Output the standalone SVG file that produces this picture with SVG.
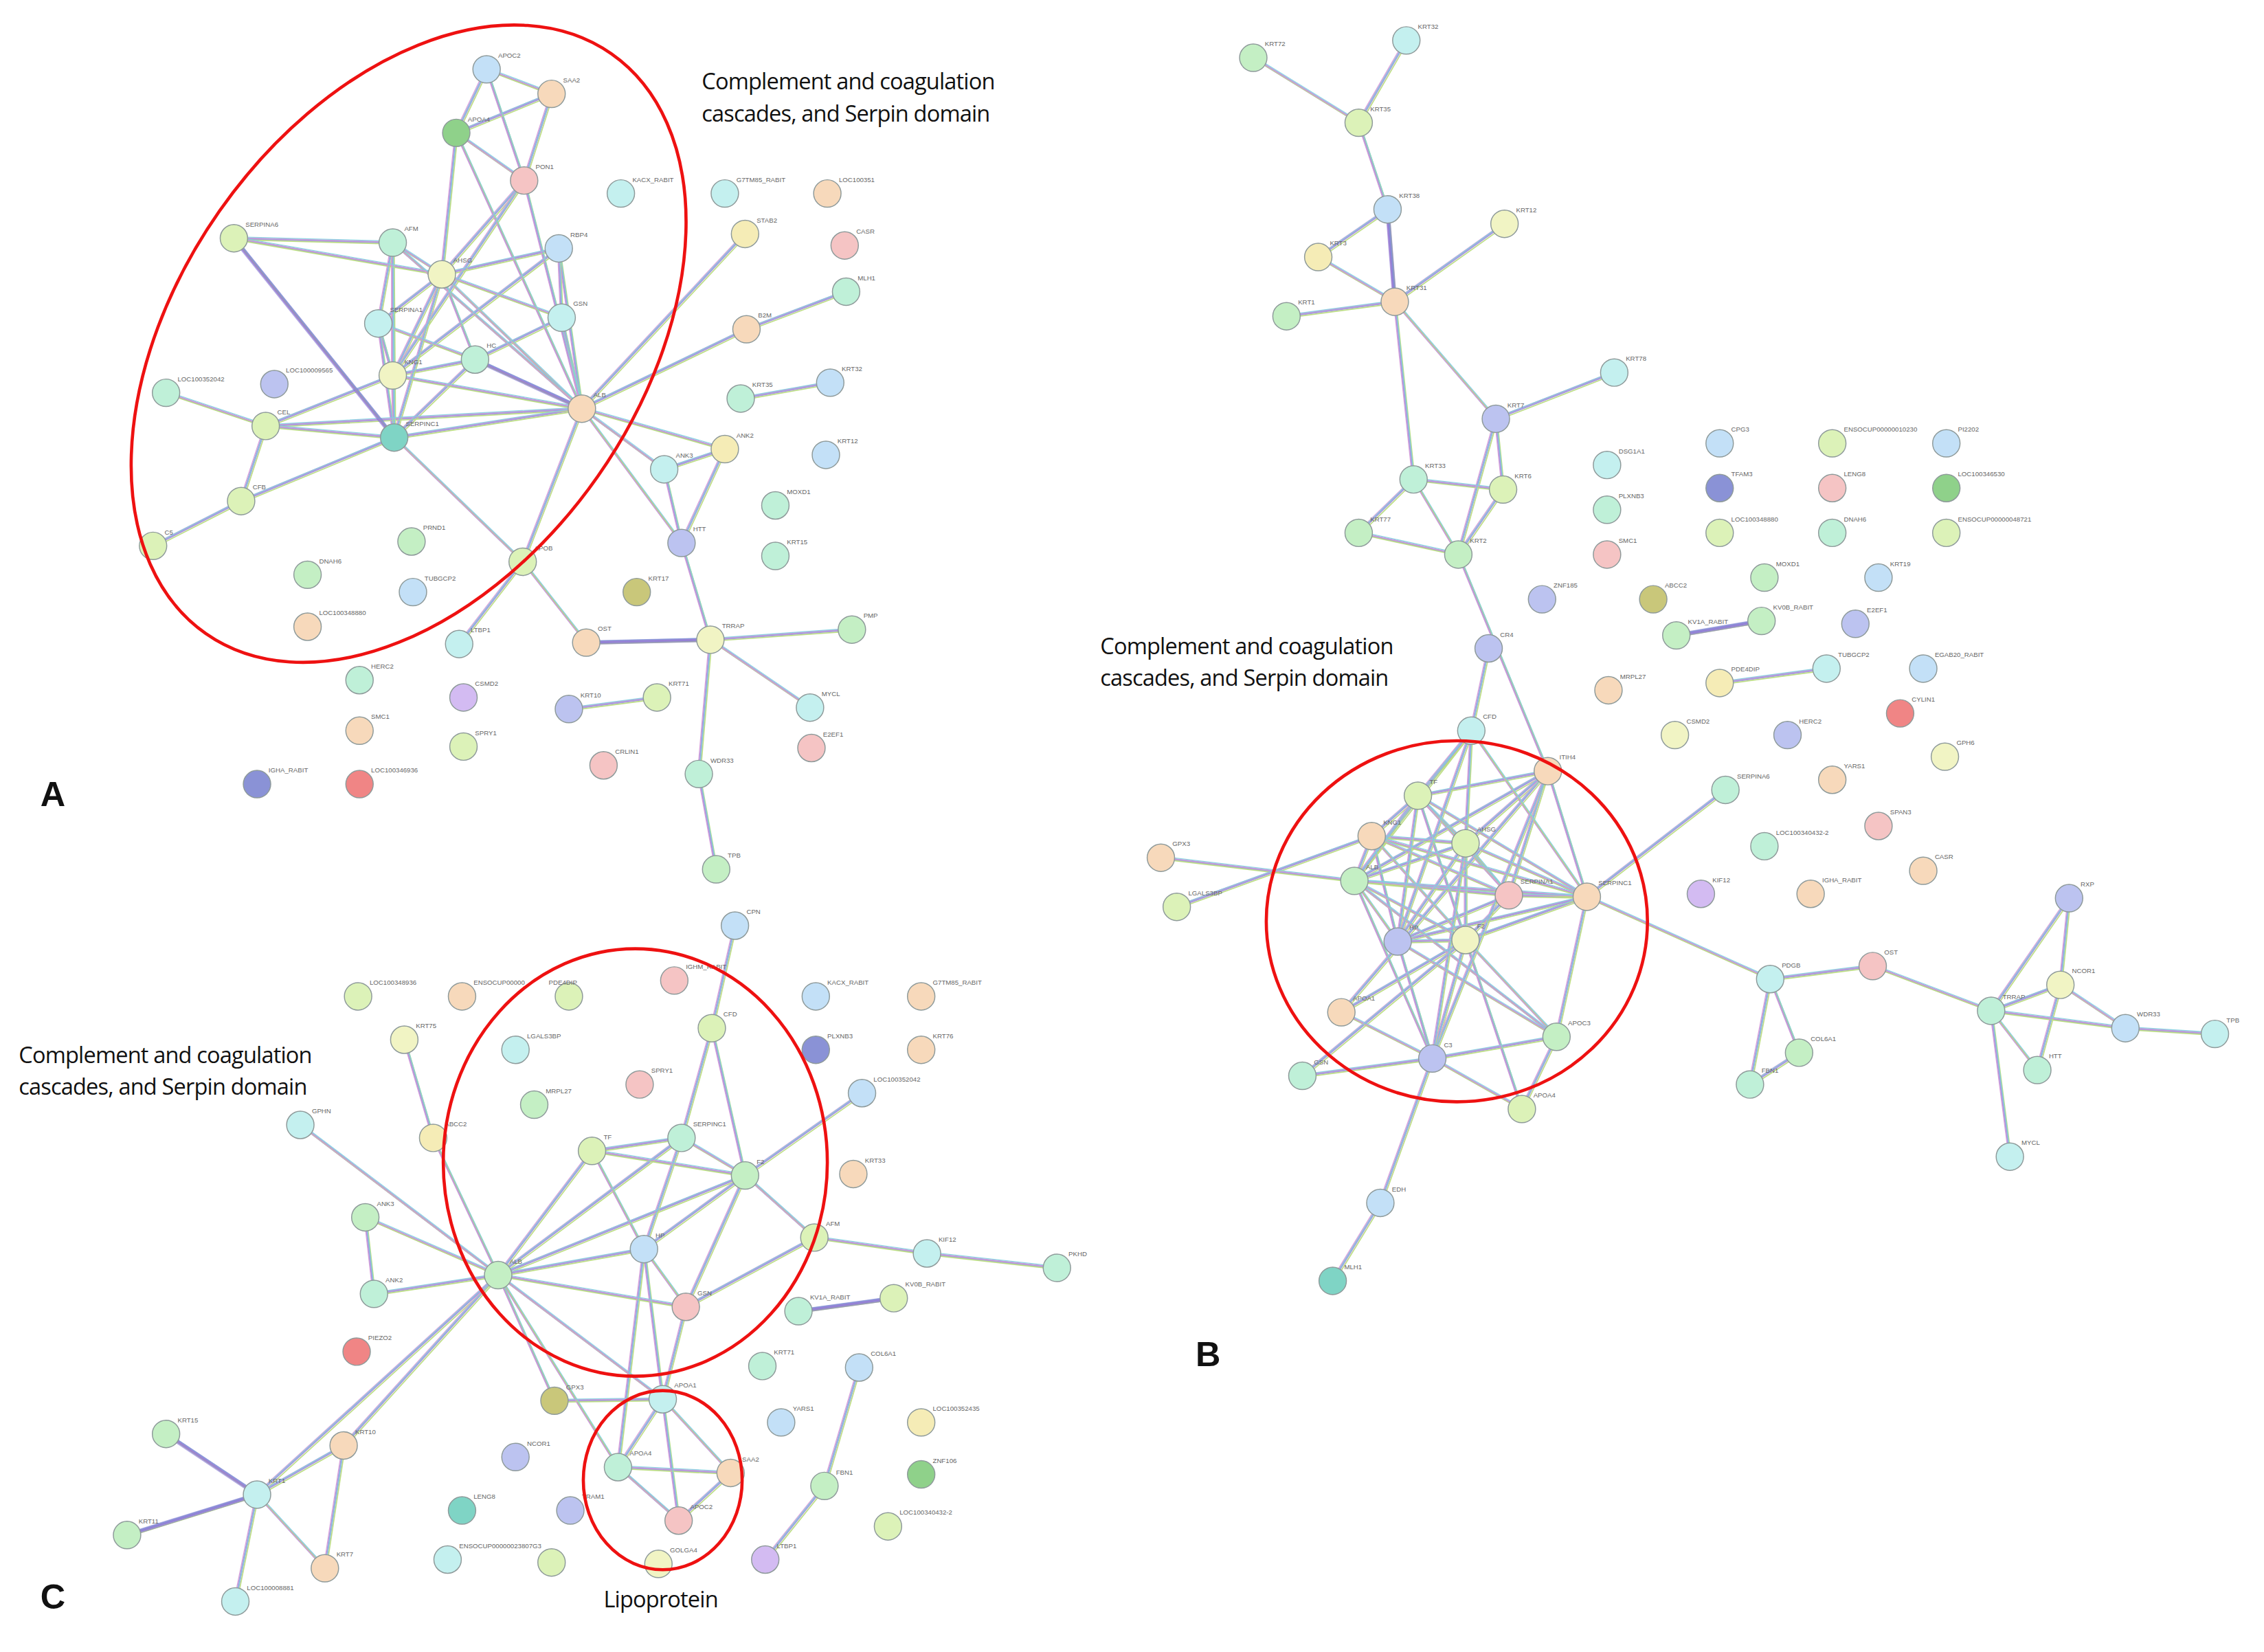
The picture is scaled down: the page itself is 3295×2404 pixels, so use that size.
<svg xmlns="http://www.w3.org/2000/svg" xmlns:xlink="http://www.w3.org/1999/xlink" width="3295" height="2404" viewBox="0 0 3295 2404">
<style>
circle{stroke:#8e9a9a;stroke-width:.7}
.bl{fill:#c3e0f7}.pe{fill:#f7d9bb}.gr{fill:#8fd18a}.pk{fill:#f5c4c4}.cy{fill:#c4f0ef}.lg{fill:#dcf2b8}.mi{fill:#bff0d8}.ly{fill:#f1f4c4}.la{fill:#bcc3f0}.te{fill:#7fd4c5}.ol{fill:#c9c77a}.pu{fill:#d3bbf2}.nv{fill:#8a92d6}.rd{fill:#f08585}.gn{fill:#c4efc4}.ye{fill:#f5ecb6}
text.l{font-family:"Liberation Sans",Arial,sans-serif;font-size:4.6px;fill:#666}
text.t{font-family:"Open Sans","Liberation Sans",sans-serif;font-size:15.5px;fill:#111;letter-spacing:-.4px}
text.p{font-family:"Liberation Sans",Arial,sans-serif;font-size:24px;font-weight:bold;fill:#111}
.e1{fill:none;stroke:#9582d6;stroke-width:1.5;opacity:.8}
.e2{fill:none;stroke:#b9dc7e;stroke-width:.8;opacity:.95}
.e3{fill:none;stroke:#d59ad8;stroke-width:.6;opacity:.9}
.e4{fill:none;stroke:#7fcfe0;stroke-width:.6;opacity:.9}
.ring{fill:none;stroke:#ee1111;stroke-width:2.2}
</style>
<defs>
<path id="eA" d="M337 48L382 65M337 48L316 92M337 48L363 125M382 65L316 92M382 65L363 125M316 92L363 125M316 92L306 190M316 92L403 283M363 125L306 190M363 125L403 283M363 125L272 260M162 165L272 168M162 165L273 303M162 165L306 190M272 168L306 190M272 168L262 224M272 168L272 260M272 168L403 283M272 168L273 303M306 190L387 172M306 190L262 224M306 190L272 260M306 190L329 249M306 190L403 283M306 190L389 220M306 190L273 303M387 172L403 283M387 172L389 220M387 172L272 260M389 220L403 283M262 224L272 260M262 224L329 249M262 224L273 303M272 260L329 249M272 260L403 283M272 260L273 303M272 260L184 295M329 249L403 283M329 249L273 303M329 249L389 220M115 272L184 295M184 295L273 303M184 295L403 283M184 295L167 347M167 347L273 303M167 347L106 378M273 303L403 283M273 303L362 389M403 283L516 162M403 283L517 228M403 283L502 311M403 283L460 325M403 283L472 376M403 283L362 389M517 228L586 202M513 276L575 265M460 325L502 311M460 325L472 376M502 311L472 376M472 376L492 443M362 389L318 446M362 389L406 445M406 445L492 443M492 443L590 436M492 443L561 490M492 443L484 536M484 536L496 602M394 491L455 483"/>
<path id="eB" d="M868 40L941 85M974 28L941 85M941 85L961 145M961 145L966 209M961 145L913 178M913 178L966 209M1042 155L966 209M891 219L966 209M966 209L1036 290M966 209L979 332M1118 258L1036 290M1036 290L1041 339M1036 290L1010 384M979 332L1041 339M979 332L941 369M979 332L1010 384M941 369L1010 384M1041 339L1010 384M1010 384L1072 534M1031 449L1019 506M1161 440L1220 430M1191 473L1265 463M1019 506L982 551M1019 506L1015 584M1019 506L938 610M1019 506L1099 621M1019 506L968 652M1072 534L982 551M1072 534L1015 584M1072 534L1045 620M1072 534L1099 621M1072 534L938 610M1072 534L992 733M982 551L950 579M982 551L1015 584M982 551L938 610M982 551L1045 620M982 551L1099 621M982 551L1015 651M982 551L968 652M950 579L1015 584M950 579L938 610M950 579L1045 620M950 579L1099 621M950 579L968 652M950 579L1015 651M950 579L815 628M1015 584L938 610M1015 584L1045 620M1015 584L1099 621M1015 584L968 652M1015 584L1015 651M1015 584L992 733M938 610L1045 620M938 610L1099 621M938 610L968 652M938 610L1015 651M938 610L804 594M938 610L992 733M1045 620L1099 621M1045 620L968 652M1045 620L1015 651M1099 621L1015 651M1099 621L968 652M1099 621L1078 718M1099 621L1195 547M1099 621L1226 678M968 652L1015 651M968 652L992 733M968 652L1078 718M1015 651L929 701M1015 651L992 733M1015 651L902 745M1015 651L1054 768M1015 651L1078 718M929 701L992 733M929 701L1072 534M992 733L1078 718M992 733L902 745M992 733L1054 768M992 733L956 833M1078 718L1054 768M1078 718L938 610M956 833L923 887M1226 678L1297 669M1226 678L1246 729M1226 678L1212 751M1246 729L1212 751M1297 669L1379 700M1379 700L1433 622M1379 700L1427 682M1379 700L1411 741M1379 700L1472 712M1379 700L1392 801M1427 682L1433 622M1427 682L1411 741M1427 682L1472 712M1472 712L1534 716"/>
<path id="eC" d="M509 641L493 712M493 712L472 788M493 712L516 814M280 720L300 788M300 788L345 883M208 779L345 883M410 797L472 788M410 797L516 814M410 797L446 865M410 797L345 883M472 788L516 814M472 788L446 865M472 788L345 883M516 814L446 865M516 814L345 883M516 814L564 857M516 814L475 905M516 814L597 757M564 857L642 868M642 868L732 878M564 857L475 905M253 843L259 896M253 843L345 883M259 896L345 883M446 865L345 883M446 865L475 905M446 865L459 969M446 865L428 1016M345 883L475 905M345 883L459 969M345 883L428 1016M345 883L178 1035M345 883L238 1001M345 883L384 970M475 905L459 969M384 970L459 969M553 908L619 899M459 969L428 1016M459 969L506 1020M459 969L470 1053M428 1016L506 1020M428 1016L470 1053M506 1020L470 1053M595 947L571 1029M571 1029L530 1080M115 993L178 1035M238 1001L178 1035M238 1001L225 1086M178 1035L88 1063M178 1035L225 1086M178 1035L163 1109"/>
</defs>
<rect width="3295" height="2404" fill="#fff"/>
<g transform="scale(2.1014)">
<g id="connectors">
<use xlink:href="#eA" class="e1"/><use xlink:href="#eA" class="e2" transform="translate(1,1)"/><use xlink:href="#eA" class="e3" transform="translate(-.9,-.5)"/><use xlink:href="#eA" class="e4" transform="translate(.4,-1)"/>
<use xlink:href="#eB" class="e1"/><use xlink:href="#eB" class="e2" transform="translate(1,1)"/><use xlink:href="#eB" class="e3" transform="translate(-.9,-.5)"/><use xlink:href="#eB" class="e4" transform="translate(.4,-1)"/>
<use xlink:href="#eC" class="e1"/><use xlink:href="#eC" class="e2" transform="translate(1,1)"/><use xlink:href="#eC" class="e3" transform="translate(-.9,-.5)"/><use xlink:href="#eC" class="e4" transform="translate(.4,-1)"/>
<path d="M162 165L273 303M403 283L329 249M406 445L492 443M961 145L966 209M1161 440L1220 430M553 908L619 899M115 993L178 1035M88 1063L178 1035" fill="none" stroke="#8070d0" stroke-width="3" opacity=".6"/>
</g>
<!-- Panel A -->
<g id="A_APOC2"><circle cx="337" cy="48" r="9.5" class="bl"/><text class="l" x="345" y="40">APOC2</text></g>
<g id="A_SAA2"><circle cx="382" cy="65" r="9.5" class="pe"/><text class="l" x="390" y="57">SAA2</text></g>
<g id="A_APOA4"><circle cx="316" cy="92" r="9.5" class="gr"/><text class="l" x="324" y="84">APOA4</text></g>
<g id="A_PON1"><circle cx="363" cy="125" r="9.5" class="pk"/><text class="l" x="371" y="117">PON1</text></g>
<g id="A_KACX"><circle cx="430" cy="134" r="9.5" class="cy"/><text class="l" x="438" y="126">KACX_RABIT</text></g>
<g id="A_G7TM85"><circle cx="502" cy="134" r="9.5" class="cy"/><text class="l" x="510" y="126">G7TM85_RABIT</text></g>
<g id="A_LOC100351"><circle cx="573" cy="134" r="9.5" class="pe"/><text class="l" x="581" y="126">LOC100351</text></g>
<g id="A_SERPINA6"><circle cx="162" cy="165" r="9.5" class="lg"/><text class="l" x="170" y="157">SERPINA6</text></g>
<g id="A_AFM"><circle cx="272" cy="168" r="9.5" class="mi"/><text class="l" x="280" y="160">AFM</text></g>
<g id="A_AHSG"><circle cx="306" cy="190" r="9.5" class="ly"/><text class="l" x="314" y="182">AHSG</text></g>
<g id="A_RBP4"><circle cx="387" cy="172" r="9.5" class="bl"/><text class="l" x="395" y="164">RBP4</text></g>
<g id="A_STAB2"><circle cx="516" cy="162" r="9.5" class="ye"/><text class="l" x="524" y="154">STAB2</text></g>
<g id="A_CASR"><circle cx="585" cy="170" r="9.5" class="pk"/><text class="l" x="593" y="162">CASR</text></g>
<g id="A_MLH1"><circle cx="586" cy="202" r="9.5" class="mi"/><text class="l" x="594" y="194">MLH1</text></g>
<g id="A_GSN"><circle cx="389" cy="220" r="9.5" class="cy"/><text class="l" x="397" y="212">GSN</text></g>
<g id="A_SERPINA1"><circle cx="262" cy="224" r="9.5" class="cy"/><text class="l" x="270" y="216">SERPINA1</text></g>
<g id="A_KNG1"><circle cx="272" cy="260" r="9.5" class="ly"/><text class="l" x="280" y="252">KNG1</text></g>
<g id="A_HC"><circle cx="329" cy="249" r="9.5" class="mi"/><text class="l" x="337" y="241">HC</text></g>
<g id="A_LOC100352042"><circle cx="115" cy="272" r="9.5" class="mi"/><text class="l" x="123" y="264">LOC100352042</text></g>
<g id="A_LOC100009"><circle cx="190" cy="266" r="9.5" class="la"/><text class="l" x="198" y="258">LOC100009565</text></g>
<g id="A_CEL"><circle cx="184" cy="295" r="9.5" class="lg"/><text class="l" x="192" y="287">CEL</text></g>
<g id="A_SERPINC1"><circle cx="273" cy="303" r="9.5" class="te"/><text class="l" x="281" y="295">SERPINC1</text></g>
<g id="A_ALB"><circle cx="403" cy="283" r="9.5" class="pe"/><text class="l" x="411" y="275">ALB</text></g>
<g id="A_B2M"><circle cx="517" cy="228" r="9.5" class="pe"/><text class="l" x="525" y="220">B2M</text></g>
<g id="A_KRT35"><circle cx="513" cy="276" r="9.5" class="mi"/><text class="l" x="521" y="268">KRT35</text></g>
<g id="A_KRT32"><circle cx="575" cy="265" r="9.5" class="bl"/><text class="l" x="583" y="257">KRT32</text></g>
<g id="A_ANK3"><circle cx="460" cy="325" r="9.5" class="cy"/><text class="l" x="468" y="317">ANK3</text></g>
<g id="A_ANK2"><circle cx="502" cy="311" r="9.5" class="ye"/><text class="l" x="510" y="303">ANK2</text></g>
<g id="A_KRT12"><circle cx="572" cy="315" r="9.5" class="bl"/><text class="l" x="580" y="307">KRT12</text></g>
<g id="A_CFB"><circle cx="167" cy="347" r="9.5" class="lg"/><text class="l" x="175" y="339">CFB</text></g>
<g id="A_C5"><circle cx="106" cy="378" r="9.5" class="lg"/><text class="l" x="114" y="370">C5</text></g>
<g id="A_PRND1"><circle cx="285" cy="375" r="9.5" class="gn"/><text class="l" x="293" y="367">PRND1</text></g>
<g id="A_MOXD1"><circle cx="537" cy="350" r="9.5" class="mi"/><text class="l" x="545" y="342">MOXD1</text></g>
<g id="A_HTT"><circle cx="472" cy="376" r="9.5" class="la"/><text class="l" x="480" y="368">HTT</text></g>
<g id="A_KRT15"><circle cx="537" cy="385" r="9.5" class="mi"/><text class="l" x="545" y="377">KRT15</text></g>
<g id="A_DNAH6"><circle cx="213" cy="398" r="9.5" class="gn"/><text class="l" x="221" y="390">DNAH6</text></g>
<g id="A_APOB"><circle cx="362" cy="389" r="9.5" class="lg"/><text class="l" x="370" y="381">APOB</text></g>
<g id="A_TUBGCP2"><circle cx="286" cy="410" r="9.5" class="bl"/><text class="l" x="294" y="402">TUBGCP2</text></g>
<g id="A_KRT17"><circle cx="441" cy="410" r="9.5" class="ol"/><text class="l" x="449" y="402">KRT17</text></g>
<g id="A_LOC100348880"><circle cx="213" cy="434" r="9.5" class="pe"/><text class="l" x="221" y="426">LOC100348880</text></g>
<g id="A_LTBP1"><circle cx="318" cy="446" r="9.5" class="cy"/><text class="l" x="326" y="438">LTBP1</text></g>
<g id="A_OST"><circle cx="406" cy="445" r="9.5" class="pe"/><text class="l" x="414" y="437">OST</text></g>
<g id="A_TRRAP"><circle cx="492" cy="443" r="9.5" class="ly"/><text class="l" x="500" y="435">TRRAP</text></g>
<g id="A_PMP"><circle cx="590" cy="436" r="9.5" class="gn"/><text class="l" x="598" y="428">PMP</text></g>
<g id="A_HERC2"><circle cx="249" cy="471" r="9.5" class="mi"/><text class="l" x="257" y="463">HERC2</text></g>
<g id="A_CSMD2"><circle cx="321" cy="483" r="9.5" class="pu"/><text class="l" x="329" y="475">CSMD2</text></g>
<g id="A_KRT10"><circle cx="394" cy="491" r="9.5" class="la"/><text class="l" x="402" y="483">KRT10</text></g>
<g id="A_KRT71"><circle cx="455" cy="483" r="9.5" class="lg"/><text class="l" x="463" y="475">KRT71</text></g>
<g id="A_MYCL"><circle cx="561" cy="490" r="9.5" class="cy"/><text class="l" x="569" y="482">MYCL</text></g>
<g id="A_SMC1"><circle cx="249" cy="506" r="9.5" class="pe"/><text class="l" x="257" y="498">SMC1</text></g>
<g id="A_SPRY1"><circle cx="321" cy="517" r="9.5" class="lg"/><text class="l" x="329" y="509">SPRY1</text></g>
<g id="A_E2F1"><circle cx="562" cy="518" r="9.5" class="pk"/><text class="l" x="570" y="510">E2EF1</text></g>
<g id="A_CRLIN1"><circle cx="418" cy="530" r="9.5" class="pk"/><text class="l" x="426" y="522">CRLIN1</text></g>
<g id="A_WDR33"><circle cx="484" cy="536" r="9.5" class="mi"/><text class="l" x="492" y="528">WDR33</text></g>
<g id="A_IGHA"><circle cx="178" cy="543" r="9.5" class="nv"/><text class="l" x="186" y="535">IGHA_RABIT</text></g>
<g id="A_LOC100346936"><circle cx="249" cy="543" r="9.5" class="rd"/><text class="l" x="257" y="535">LOC100346936</text></g>
<g id="A_TPB"><circle cx="496" cy="602" r="9.5" class="gn"/><text class="l" x="504" y="594">TPB</text></g>
<g id="A_annot"><ellipse cx="283" cy="238" rx="160" ry="245" transform="rotate(35 283 238)" class="ring"/>
<text class="t" x="486" y="62">Complement and coagulation</text><text class="t" x="486" y="84">cascades, and Serpin domain</text>
<text class="p" x="28" y="558">A</text></g>
<!-- Panel B -->
<g id="B_KRT72"><circle cx="868" cy="40" r="9.5" class="gn"/><text class="l" x="876" y="32">KRT72</text></g>
<g id="B_KRT32"><circle cx="974" cy="28" r="9.5" class="cy"/><text class="l" x="982" y="20">KRT32</text></g>
<g id="B_KRT35"><circle cx="941" cy="85" r="9.5" class="lg"/><text class="l" x="949" y="77">KRT35</text></g>
<g id="B_KRT38"><circle cx="961" cy="145" r="9.5" class="bl"/><text class="l" x="969" y="137">KRT38</text></g>
<g id="B_KRT12"><circle cx="1042" cy="155" r="9.5" class="ly"/><text class="l" x="1050" y="147">KRT12</text></g>
<g id="B_KRT3"><circle cx="913" cy="178" r="9.5" class="ye"/><text class="l" x="921" y="170">KRT3</text></g>
<g id="B_KRT31"><circle cx="966" cy="209" r="9.5" class="pe"/><text class="l" x="974" y="201">KRT31</text></g>
<g id="B_KRT1"><circle cx="891" cy="219" r="9.5" class="gn"/><text class="l" x="899" y="211">KRT1</text></g>
<g id="B_KRT78"><circle cx="1118" cy="258" r="9.5" class="cy"/><text class="l" x="1126" y="250">KRT78</text></g>
<g id="B_KRT7"><circle cx="1036" cy="290" r="9.5" class="la"/><text class="l" x="1044" y="282">KRT7</text></g>
<g id="B_KRT33"><circle cx="979" cy="332" r="9.5" class="mi"/><text class="l" x="987" y="324">KRT33</text></g>
<g id="B_KRT6"><circle cx="1041" cy="339" r="9.5" class="lg"/><text class="l" x="1049" y="331">KRT6</text></g>
<g id="B_KRT77"><circle cx="941" cy="369" r="9.5" class="gn"/><text class="l" x="949" y="361">KRT77</text></g>
<g id="B_KRT2"><circle cx="1010" cy="384" r="9.5" class="gn"/><text class="l" x="1018" y="376">KRT2</text></g>
<g id="B_DSG1A1"><circle cx="1113" cy="322" r="9.5" class="cy"/><text class="l" x="1121" y="314">DSG1A1</text></g>
<g id="B_CPG3"><circle cx="1191" cy="307" r="9.5" class="bl"/><text class="l" x="1199" y="299">CPG3</text></g>
<g id="B_ENSOCU20"><circle cx="1269" cy="307" r="9.5" class="lg"/><text class="l" x="1277" y="299">ENSOCUP00000010230</text></g>
<g id="B_PI2202"><circle cx="1348" cy="307" r="9.5" class="bl"/><text class="l" x="1356" y="299">PI2202</text></g>
<g id="B_TFAM"><circle cx="1191" cy="338" r="9.5" class="nv"/><text class="l" x="1199" y="330">TFAM3</text></g>
<g id="B_LENG8"><circle cx="1269" cy="338" r="9.5" class="pk"/><text class="l" x="1277" y="330">LENG8</text></g>
<g id="B_LOC100346530"><circle cx="1348" cy="338" r="9.5" class="gr"/><text class="l" x="1356" y="330">LOC100346530</text></g>
<g id="B_PLXNB3"><circle cx="1113" cy="353" r="9.5" class="mi"/><text class="l" x="1121" y="345">PLXNB3</text></g>
<g id="B_LOC100348880"><circle cx="1191" cy="369" r="9.5" class="lg"/><text class="l" x="1199" y="361">LOC100348880</text></g>
<g id="B_DNAH6"><circle cx="1269" cy="369" r="9.5" class="mi"/><text class="l" x="1277" y="361">DNAH6</text></g>
<g id="B_ENSOCU21"><circle cx="1348" cy="369" r="9.5" class="lg"/><text class="l" x="1356" y="361">ENSOCUP00000048721</text></g>
<g id="B_SMC1"><circle cx="1113" cy="384" r="9.5" class="pk"/><text class="l" x="1121" y="376">SMC1</text></g>
<g id="B_MOXD1"><circle cx="1222" cy="400" r="9.5" class="gn"/><text class="l" x="1230" y="392">MOXD1</text></g>
<g id="B_KRT19"><circle cx="1301" cy="400" r="9.5" class="bl"/><text class="l" x="1309" y="392">KRT19</text></g>
<g id="B_ZNF185"><circle cx="1068" cy="415" r="9.5" class="la"/><text class="l" x="1076" y="407">ZNF185</text></g>
<g id="B_ABCC2"><circle cx="1145" cy="415" r="9.5" class="ol"/><text class="l" x="1153" y="407">ABCC2</text></g>
<g id="B_KV1A"><circle cx="1161" cy="440" r="9.5" class="gn"/><text class="l" x="1169" y="432">KV1A_RABIT</text></g>
<g id="B_KV0B"><circle cx="1220" cy="430" r="9.5" class="gn"/><text class="l" x="1228" y="422">KV0B_RABIT</text></g>
<g id="B_E2F1"><circle cx="1285" cy="432" r="9.5" class="la"/><text class="l" x="1293" y="424">E2EF1</text></g>
<g id="B_CR4"><circle cx="1031" cy="449" r="9.5" class="la"/><text class="l" x="1039" y="441">CR4</text></g>
<g id="B_MRPL27"><circle cx="1114" cy="478" r="9.5" class="pe"/><text class="l" x="1122" y="470">MRPL27</text></g>
<g id="B_PDE4D"><circle cx="1191" cy="473" r="9.5" class="ye"/><text class="l" x="1199" y="465">PDE4DIP</text></g>
<g id="B_TUBGCP2"><circle cx="1265" cy="463" r="9.5" class="cy"/><text class="l" x="1273" y="455">TUBGCP2</text></g>
<g id="B_EGAB20"><circle cx="1332" cy="463" r="9.5" class="bl"/><text class="l" x="1340" y="455">EGAB20_RABIT</text></g>
<g id="B_CYLIN1"><circle cx="1316" cy="494" r="9.5" class="rd"/><text class="l" x="1324" y="486">CYLIN1</text></g>
<g id="B_CSMD2"><circle cx="1160" cy="509" r="9.5" class="ly"/><text class="l" x="1168" y="501">CSMD2</text></g>
<g id="B_HERC2"><circle cx="1238" cy="509" r="9.5" class="la"/><text class="l" x="1246" y="501">HERC2</text></g>
<g id="B_GPH6"><circle cx="1347" cy="524" r="9.5" class="ly"/><text class="l" x="1355" y="516">GPH6</text></g>
<g id="B_SERPINA6"><circle cx="1195" cy="547" r="9.5" class="mi"/><text class="l" x="1203" y="539">SERPINA6</text></g>
<g id="B_YARS1"><circle cx="1269" cy="540" r="9.5" class="pe"/><text class="l" x="1277" y="532">YARS1</text></g>
<g id="B_SPAN3"><circle cx="1301" cy="572" r="9.5" class="pk"/><text class="l" x="1309" y="564">SPAN3</text></g>
<g id="B_LOC100340432"><circle cx="1222" cy="586" r="9.5" class="mi"/><text class="l" x="1230" y="578">LOC100340432-2</text></g>
<g id="B_CASR"><circle cx="1332" cy="603" r="9.5" class="pe"/><text class="l" x="1340" y="595">CASR</text></g>
<g id="B_KIF12"><circle cx="1178" cy="619" r="9.5" class="pu"/><text class="l" x="1186" y="611">KIF12</text></g>
<g id="B_IGHA"><circle cx="1254" cy="619" r="9.5" class="pe"/><text class="l" x="1262" y="611">IGHA_RABIT</text></g>
<g id="B_RXP"><circle cx="1433" cy="622" r="9.5" class="la"/><text class="l" x="1441" y="614">RXP</text></g>
<g id="B_n1"><circle cx="1019" cy="506" r="9.5" class="cy"/><text class="l" x="1027" y="498">CFD</text></g>
<g id="B_n2"><circle cx="1072" cy="534" r="9.5" class="pe"/><text class="l" x="1080" y="526">ITIH4</text></g>
<g id="B_n3"><circle cx="982" cy="551" r="9.5" class="lg"/><text class="l" x="990" y="543">TF</text></g>
<g id="B_n4"><circle cx="950" cy="579" r="9.5" class="pe"/><text class="l" x="958" y="571">KNG1</text></g>
<g id="B_n5"><circle cx="1015" cy="584" r="9.5" class="lg"/><text class="l" x="1023" y="576">AHSG</text></g>
<g id="B_n6"><circle cx="938" cy="610" r="9.5" class="gn"/><text class="l" x="946" y="602">ALB</text></g>
<g id="B_n7"><circle cx="1045" cy="620" r="9.5" class="pk"/><text class="l" x="1053" y="612">SERPINA1</text></g>
<g id="B_n8"><circle cx="1099" cy="621" r="9.5" class="pe"/><text class="l" x="1107" y="613">SERPINC1</text></g>
<g id="B_n9"><circle cx="968" cy="652" r="9.5" class="la"/><text class="l" x="976" y="644">HP</text></g>
<g id="B_n10"><circle cx="1015" cy="651" r="9.5" class="ly"/><text class="l" x="1023" y="643">F2</text></g>
<g id="B_n11"><circle cx="929" cy="701" r="9.5" class="pe"/><text class="l" x="937" y="693">APOA1</text></g>
<g id="B_n12"><circle cx="992" cy="733" r="9.5" class="la"/><text class="l" x="1000" y="725">C3</text></g>
<g id="B_n13"><circle cx="1078" cy="718" r="9.5" class="gn"/><text class="l" x="1086" y="710">APOC3</text></g>
<g id="B_n14"><circle cx="902" cy="745" r="9.5" class="mi"/><text class="l" x="910" y="737">GSN</text></g>
<g id="B_n15"><circle cx="1054" cy="768" r="9.5" class="lg"/><text class="l" x="1062" y="760">APOA4</text></g>
<g id="B_GPX3"><circle cx="804" cy="594" r="9.5" class="pe"/><text class="l" x="812" y="586">GPX3</text></g>
<g id="B_LGALS3BP"><circle cx="815" cy="628" r="9.5" class="lg"/><text class="l" x="823" y="620">LGALS3BP</text></g>
<g id="B_PDGB"><circle cx="1226" cy="678" r="9.5" class="cy"/><text class="l" x="1234" y="670">PDGB</text></g>
<g id="B_OST"><circle cx="1297" cy="669" r="9.5" class="pk"/><text class="l" x="1305" y="661">OST</text></g>
<g id="B_COL6A"><circle cx="1246" cy="729" r="9.5" class="gn"/><text class="l" x="1254" y="721">COL6A1</text></g>
<g id="B_FBN1"><circle cx="1212" cy="751" r="9.5" class="mi"/><text class="l" x="1220" y="743">FBN1</text></g>
<g id="B_PRKA"><circle cx="1379" cy="700" r="9.5" class="mi"/><text class="l" x="1387" y="692">TRRAP</text></g>
<g id="B_NCOR1"><circle cx="1427" cy="682" r="9.5" class="ly"/><text class="l" x="1435" y="674">NCOR1</text></g>
<g id="B_HTT"><circle cx="1411" cy="741" r="9.5" class="mi"/><text class="l" x="1419" y="733">HTT</text></g>
<g id="B_WDR33"><circle cx="1472" cy="712" r="9.5" class="bl"/><text class="l" x="1480" y="704">WDR33</text></g>
<g id="B_TPB"><circle cx="1534" cy="716" r="9.5" class="cy"/><text class="l" x="1542" y="708">TPB</text></g>
<g id="B_MYCL"><circle cx="1392" cy="801" r="9.5" class="cy"/><text class="l" x="1400" y="793">MYCL</text></g>
<g id="B_EDH"><circle cx="956" cy="833" r="9.5" class="bl"/><text class="l" x="964" y="825">EDH</text></g>
<g id="B_MLH1"><circle cx="923" cy="887" r="9.5" class="te"/><text class="l" x="931" y="879">MLH1</text></g>
<g id="B_annot"><ellipse cx="1009" cy="638" rx="132" ry="125" class="ring"/>
<text class="t" x="762" y="453">Complement and coagulation</text><text class="t" x="762" y="475">cascades, and Serpin domain</text>
<text class="p" x="828" y="946">B</text></g>
<!-- Panel C -->
<g id="C_CPN"><circle cx="509" cy="641" r="9.5" class="bl"/><text class="l" x="517" y="633">CPN</text></g>
<g id="C_IGHM"><circle cx="467" cy="679" r="9.5" class="pk"/><text class="l" x="475" y="671">IGHM_RABIT</text></g>
<g id="C_LOC100348936"><circle cx="248" cy="690" r="9.5" class="lg"/><text class="l" x="256" y="682">LOC100348936</text></g>
<g id="C_ENSOCU"><circle cx="320" cy="690" r="9.5" class="pe"/><text class="l" x="328" y="682">ENSOCUP00000</text></g>
<g id="C_PDE4DIP"><circle cx="394" cy="690" r="9.5" class="lg"/><text class="l" x="380" y="682">PDE4DIP</text></g>
<g id="C_KACX"><circle cx="565" cy="690" r="9.5" class="bl"/><text class="l" x="573" y="682">KACX_RABIT</text></g>
<g id="C_G7TM85"><circle cx="638" cy="690" r="9.5" class="pe"/><text class="l" x="646" y="682">G7TM85_RABIT</text></g>
<g id="C_KRT75"><circle cx="280" cy="720" r="9.5" class="ly"/><text class="l" x="288" y="712">KRT75</text></g>
<g id="C_LGALS3BP"><circle cx="357" cy="727" r="9.5" class="cy"/><text class="l" x="365" y="719">LGALS3BP</text></g>
<g id="C_CFD"><circle cx="493" cy="712" r="9.5" class="lg"/><text class="l" x="501" y="704">CFD</text></g>
<g id="C_PLXNB3"><circle cx="565" cy="727" r="9.5" class="nv"/><text class="l" x="573" y="719">PLXNB3</text></g>
<g id="C_KRT76"><circle cx="638" cy="727" r="9.5" class="pe"/><text class="l" x="646" y="719">KRT76</text></g>
<g id="C_SPRY1"><circle cx="443" cy="751" r="9.5" class="pk"/><text class="l" x="451" y="743">SPRY1</text></g>
<g id="C_MRPL27"><circle cx="370" cy="765" r="9.5" class="gn"/><text class="l" x="378" y="757">MRPL27</text></g>
<g id="C_LOC100352042"><circle cx="597" cy="757" r="9.5" class="bl"/><text class="l" x="605" y="749">LOC100352042</text></g>
<g id="C_GPHN"><circle cx="208" cy="779" r="9.5" class="cy"/><text class="l" x="216" y="771">GPHN</text></g>
<g id="C_ABCC2"><circle cx="300" cy="788" r="9.5" class="ye"/><text class="l" x="308" y="780">ABCC2</text></g>
<g id="C_TF"><circle cx="410" cy="797" r="9.5" class="lg"/><text class="l" x="418" y="789">TF</text></g>
<g id="C_SERPINC1"><circle cx="472" cy="788" r="9.5" class="mi"/><text class="l" x="480" y="780">SERPINC1</text></g>
<g id="C_F2"><circle cx="516" cy="814" r="9.5" class="gn"/><text class="l" x="524" y="806">F2</text></g>
<g id="C_KRT33"><circle cx="591" cy="813" r="9.5" class="pe"/><text class="l" x="599" y="805">KRT33</text></g>
<g id="C_ANK3"><circle cx="253" cy="843" r="9.5" class="gn"/><text class="l" x="261" y="835">ANK3</text></g>
<g id="C_APM"><circle cx="564" cy="857" r="9.5" class="lg"/><text class="l" x="572" y="849">AFM</text></g>
<g id="C_KIF12"><circle cx="642" cy="868" r="9.5" class="cy"/><text class="l" x="650" y="860">KIF12</text></g>
<g id="C_PKHD"><circle cx="732" cy="878" r="9.5" class="mi"/><text class="l" x="740" y="870">PKHD</text></g>
<g id="C_HP"><circle cx="446" cy="865" r="9.5" class="bl"/><text class="l" x="454" y="857">HP</text></g>
<g id="C_ALB"><circle cx="345" cy="883" r="9.5" class="gn"/><text class="l" x="353" y="875">ALB</text></g>
<g id="C_ANK2"><circle cx="259" cy="896" r="9.5" class="mi"/><text class="l" x="267" y="888">ANK2</text></g>
<g id="C_GSN"><circle cx="475" cy="905" r="9.5" class="pk"/><text class="l" x="483" y="897">GSN</text></g>
<g id="C_KV1A"><circle cx="553" cy="908" r="9.5" class="mi"/><text class="l" x="561" y="900">KV1A_RABIT</text></g>
<g id="C_KV0B"><circle cx="619" cy="899" r="9.5" class="lg"/><text class="l" x="627" y="891">KV0B_RABIT</text></g>
<g id="C_PIEZO2"><circle cx="247" cy="936" r="9.5" class="rd"/><text class="l" x="255" y="928">PIEZO2</text></g>
<g id="C_KRT71"><circle cx="528" cy="946" r="9.5" class="mi"/><text class="l" x="536" y="938">KRT71</text></g>
<g id="C_COL6A1"><circle cx="595" cy="947" r="9.5" class="bl"/><text class="l" x="603" y="939">COL6A1</text></g>
<g id="C_GPX3"><circle cx="384" cy="970" r="9.5" class="ol"/><text class="l" x="392" y="962">GPX3</text></g>
<g id="C_APOA1"><circle cx="459" cy="969" r="9.5" class="cy"/><text class="l" x="467" y="961">APOA1</text></g>
<g id="C_YARS1"><circle cx="541" cy="985" r="9.5" class="bl"/><text class="l" x="549" y="977">YARS1</text></g>
<g id="C_LOC100352435"><circle cx="638" cy="985" r="9.5" class="ye"/><text class="l" x="646" y="977">LOC100352435</text></g>
<g id="C_KRT15"><circle cx="115" cy="993" r="9.5" class="gn"/><text class="l" x="123" y="985">KRT15</text></g>
<g id="C_KRT10"><circle cx="238" cy="1001" r="9.5" class="pe"/><text class="l" x="246" y="993">KRT10</text></g>
<g id="C_NCOR1"><circle cx="357" cy="1009" r="9.5" class="la"/><text class="l" x="365" y="1001">NCOR1</text></g>
<g id="C_APOA4"><circle cx="428" cy="1016" r="9.5" class="mi"/><text class="l" x="436" y="1008">APOA4</text></g>
<g id="C_SAA2"><circle cx="506" cy="1020" r="9.5" class="pe"/><text class="l" x="514" y="1012">SAA2</text></g>
<g id="C_FBN1"><circle cx="571" cy="1029" r="9.5" class="gn"/><text class="l" x="579" y="1021">FBN1</text></g>
<g id="C_ZNF106"><circle cx="638" cy="1021" r="9.5" class="gr"/><text class="l" x="646" y="1013">ZNF106</text></g>
<g id="C_KRT1"><circle cx="178" cy="1035" r="9.5" class="cy"/><text class="l" x="186" y="1027">KRT1</text></g>
<g id="C_LENG8"><circle cx="320" cy="1046" r="9.5" class="te"/><text class="l" x="328" y="1038">LENG8</text></g>
<g id="C_TRAM1"><circle cx="395" cy="1046" r="9.5" class="la"/><text class="l" x="403" y="1038">TRAM1</text></g>
<g id="C_APOC2"><circle cx="470" cy="1053" r="9.5" class="pk"/><text class="l" x="478" y="1045">APOC2</text></g>
<g id="C_LOC100340432"><circle cx="615" cy="1057" r="9.5" class="lg"/><text class="l" x="623" y="1049">LOC100340432-2</text></g>
<g id="C_KRT11"><circle cx="88" cy="1063" r="9.5" class="gn"/><text class="l" x="96" y="1055">KRT11</text></g>
<g id="C_ENSOCUPG3"><circle cx="310" cy="1080" r="9.5" class="cy"/><text class="l" x="318" y="1072">ENSOCUP00000023807G3</text></g>
<g id="C_n382"><circle cx="382" cy="1082" r="9.5" class="lg"/></g>
<g id="C_GOLGA4"><circle cx="456" cy="1083" r="9.5" class="ly"/><text class="l" x="464" y="1075">GOLGA4</text></g>
<g id="C_LTBP1"><circle cx="530" cy="1080" r="9.5" class="pu"/><text class="l" x="538" y="1072">LTBP1</text></g>
<g id="C_KRT7"><circle cx="225" cy="1086" r="9.5" class="pe"/><text class="l" x="233" y="1078">KRT7</text></g>
<g id="C_LOC100008881"><circle cx="163" cy="1109" r="9.5" class="cy"/><text class="l" x="171" y="1101">LOC100008881</text></g>
<g id="C_annot"><ellipse cx="440" cy="805" rx="133" ry="148" class="ring"/><ellipse cx="459" cy="1025" rx="55" ry="62" class="ring"/>
<text class="t" x="13" y="736">Complement and coagulation</text><text class="t" x="13" y="758">cascades, and Serpin domain</text>
<text class="t" x="418" y="1113">Lipoprotein</text>
<text class="p" x="28" y="1114">C</text></g>
</g>
</svg>
